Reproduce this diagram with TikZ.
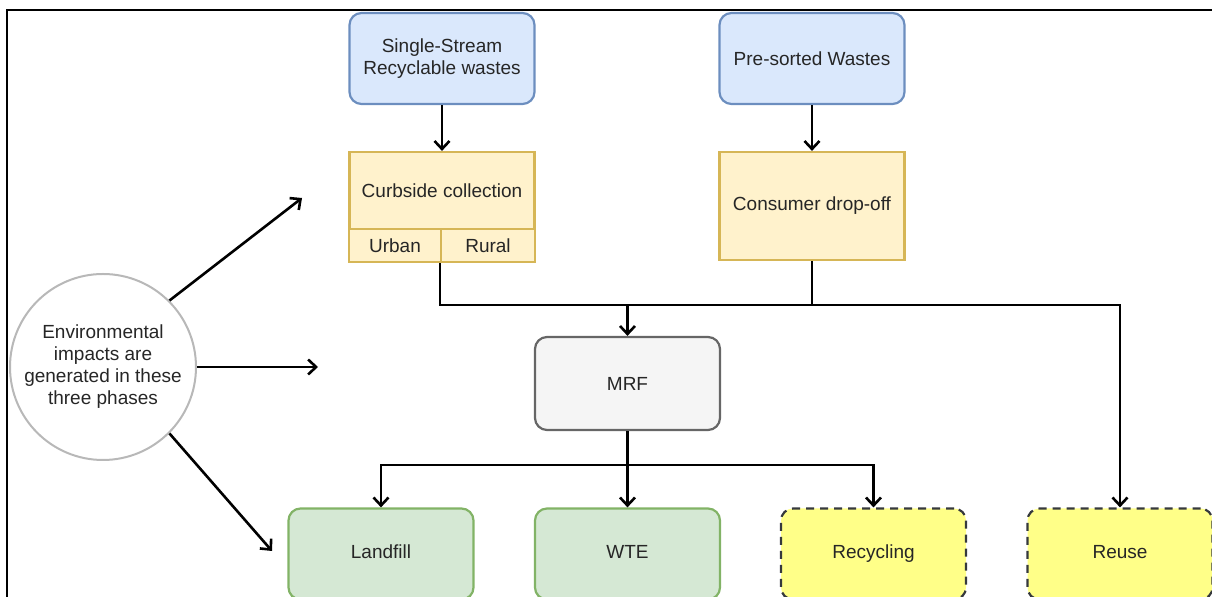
\documentclass[tikz,border=0pt]{standalone}
\usepackage{fontspec}
\setmainfont{Liberation Sans}
\usetikzlibrary{arrows.meta}
\definecolor{srcfill}{HTML}{DAE8FC}
\definecolor{srcline}{HTML}{6C8EBF}
\definecolor{colfill}{HTML}{FFF2CC}
\definecolor{colline}{HTML}{D6B656}
\definecolor{mrffill}{HTML}{F5F5F5}
\definecolor{mrfline}{HTML}{666666}
\definecolor{endfill}{HTML}{D5E8D4}
\definecolor{endline}{HTML}{82B366}
\definecolor{reufill}{HTML}{FFFF88}
\definecolor{reuline}{HTML}{36393D}
\definecolor{ringline}{HTML}{B8B8B8}
\definecolor{txt}{HTML}{262626}

\begin{document}
\begin{tikzpicture}[x=0.5pt,y=-0.5pt,
  font=\fontsize{9.5}{11}\selectfont,
  box/.style={draw, line width=1.1pt, text=txt, align=center, inner sep=0pt,
    minimum width=92.5pt, minimum height=45.5pt},
  src/.style={box, rounded corners=6pt, draw=srcline, fill=srcfill},
  col/.style={box, draw=colline, fill=colfill},
  mrfbox/.style={box, rounded corners=6pt, draw=mrfline, fill=mrffill},
  sink/.style={box, rounded corners=6pt, draw=endline, fill=endfill,
    text height=7pt, text depth=2pt},
  reu/.style={sink, dashed, dash pattern=on 4pt off 3pt,
    draw=reuline, fill=reufill},
  flow/.style={line width=1.3pt, -{Straight Barb[length=4pt,width=7.5pt]}},
  wire/.style={line width=1.3pt}]
  \useasboundingbox (0,0) rectangle (1212,597);
  \draw[line width=1.3pt] (7,597) -- (7,10) -- (1212,10);

  % sources
  \node[src] (single) at (442,58.5) {Single-Stream\\Recyclable wastes};
  \node[src] (presort) at (812,58.5) {Pre-sorted Wastes};

  % collection
  \node[col, minimum height=38.5pt] (curb) at (442,190.5) {Curbside collection};
  \node[col, minimum width=46pt, minimum height=16.5pt] (urban) at (395,245.5) {Urban};
  \node[col, minimum width=47pt, minimum height=16.5pt] (rural) at (488,245.5) {Rural};
  \node[col, minimum height=54pt] (drop) at (812,206) {Consumer drop-off};

  \node[mrfbox, minimum height=46.5pt] (mrf) at (627.5,383.5) {MRF};

  % end of life
  \node[sink] (landfill) at (381,554) {Landfill};
  \node[sink] (wte) at (627.5,554) {WTE};
  \node[reu] (recyc) at (873.5,554) {Recycling};
  \node[reu] (reuse) at (1120,554) {Reuse};

  \node[circle, draw=ringline, line width=1pt, fill=white, text=txt, align=center,
    minimum size=93pt, inner sep=0pt] (env) at (103,367)
    {Environmental\\impacts are\\generated in these\\three phases};

  \coordinate (topbus) at (627.5,305);
  \coordinate (lowbus) at (627.5,465);
  \coordinate (p1) at (302,198);
  \coordinate (p2) at (318,367);
  \coordinate (p3) at (272,551);

  \draw[flow] (single) -- (curb);
  \draw[flow] (presort) -- (drop);
  \draw[wire] (rural.south west) |- (topbus);
  \draw[wire] (drop.south) -- (drop.south |- topbus);
  \draw[flow] (topbus) -- (mrf);
  \draw[flow] (topbus) -| (reuse);
  \draw[wire] (mrf) -- (lowbus);
  \draw[flow] (lowbus) -| (landfill);
  \draw[flow] (lowbus) -- (wte);
  \draw[flow] (lowbus) -| (recyc);

  \draw[flow] (env.45) -- (p1);
  \draw[flow] (env.east) -- (p2);
  \draw[flow] (env.-45) -- (p3);
\end{tikzpicture}
\end{document}
